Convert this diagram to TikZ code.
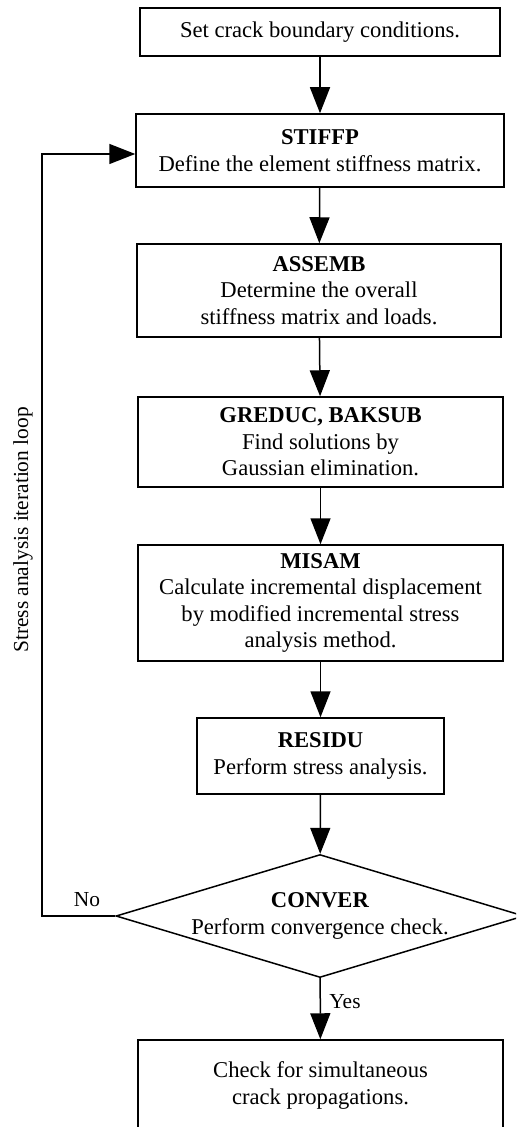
\documentclass[tikz,border=0pt]{standalone}
\usepackage{fontspec}
\setmainfont{Liberation Serif}
\usetikzlibrary{shapes.geometric,arrows.meta}

\begin{document}
\begin{tikzpicture}[x=0.5pt,y=-0.5pt,
    every node/.style={font=\fontsize{10.7}{13.2}\selectfont},
    box/.style={draw,line width=.75pt,align=center,inner sep=0pt,
      font=\fontsize{11.3}{13.25}\selectfont},
    flow/.style={line width=.75pt,-{Triangle[length=13pt,width=10pt]}}]
  \clip (0,0) rectangle (516,1127);
  % program steps, top to bottom
  \node[box,minimum width=180pt,minimum height=24pt] (Setup) at (320,32)
       {Set crack boundary conditions.};
  \node[box,minimum width=184pt,minimum height=36.5pt] (Stiffp) at (320,150.5)
       {\textbf{STIFFP}\\Define the element stiffness matrix.};
  \node[box,minimum width=182pt,minimum height=46.5pt] (Assemb) at (319,290.5)
       {\textbf{ASSEMB}\\Determine the overall\\stiffness matrix and loads.};
  \node[box,minimum width=182.5pt,minimum height=45pt] (Greduc) at (320.5,442)
       {\textbf{GREDUC, BAKSUB}\\Find solutions by\\Gaussian elimination.};
  \node[box,minimum width=182.5pt,minimum height=58pt] (Misam) at (320.5,603)
       {\textbf{MISAM}\\Calculate incremental displacement\\by modified incremental stress\\analysis method.};
  \node[box,minimum width=123.5pt,minimum height=38pt] (Residu) at (320.5,756)
       {\textbf{RESIDU}\\Perform stress analysis.};
  \node[box,diamond,aspect=3.32,inner xsep=-7pt,minimum width=204pt,minimum height=61.5pt] (Conver) at (320,916)
       {\textbf{CONVER}\\Perform convergence check.};
  \node[box,minimum width=182.5pt,minimum height=45.5pt] (Check) at (320.5,1085.5)
       {Check for simultaneous\\crack propagations.};

  \draw[flow] (Setup) -- (Stiffp);
  \draw[flow] (Stiffp) -- (Assemb);
  \draw[flow] (Assemb) -- (Greduc);
  \draw[flow] (Greduc) -- (Misam);
  \draw[flow] (Misam) -- (Residu);
  \draw[flow] (Residu) -- (Conver);
  \draw[flow] (Conver) -- (Check);

  % iteration loop back to STIFFP
  \coordinate (LoopCorner) at (42,916);
  \draw[flow] (Conver.west) -- (LoopCorner) |- ([yshift=-1.75pt]Stiffp.west);
  \node (No) at (87,900) {No};
  \node (Yes) at (345,1002) {Yes};
  \node[rotate=90] (LoopLabel) at (23,530) {Stress analysis iteration loop};
\end{tikzpicture}
\end{document}
